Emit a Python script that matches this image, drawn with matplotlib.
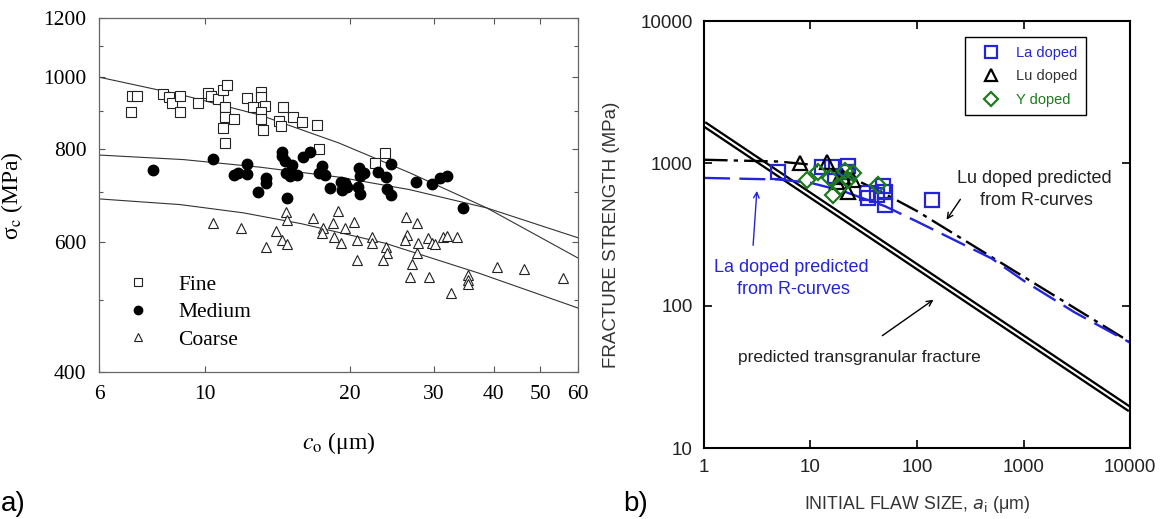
import matplotlib
matplotlib.use("Agg")
import matplotlib.pyplot as plt

# ---------------- panel a) : sigma_c vs c_o (three grain sizes)
fine_c = [7.03, 7.2, 6.99, 8.16, 8.4, 8.53, 8.86, 8.86, 9.65, 10.13,
          10.3, 10.63, 10.89, 11.1, 11.0, 11.0, 11.48, 10.89, 11.0, 12.22,
          12.58, 13.07, 13.07, 13.3, 13.07, 13.07, 13.2, 14.53, 14.25, 14.4,
          15.25, 15.92, 17.11, 17.25, 23.7, 22.6]
fine_s = [943, 943, 896, 948, 939, 923, 943, 896, 923, 952,
          943, 934, 961, 976, 911, 884, 877, 854, 815, 937,
          911, 955, 939, 913, 896, 877, 848, 911, 872, 859,
          884, 870, 862, 800, 790, 766]

medium_c = [7.78, 10.4, 12.22, 11.48, 11.7, 12.22, 12.88, 13.39, 13.39, 14.46,
            14.46, 14.67, 15.17, 14.74, 15.0, 15.55, 15.98, 16.54, 14.8, 17.53,
            17.3, 17.8, 18.2, 19.2, 19.6, 19.25, 19.8, 20.95, 21.05, 21.4,
            20.85, 21.05, 22.9, 23.8, 23.95, 24.4, 24.4, 27.5, 29.8, 30.9,
            32.0, 34.5]
medium_s = [749, 776, 763, 738, 743, 740, 700, 731, 720, 793,
            783, 771, 761, 743, 736, 738, 780, 793, 686, 758,
            743, 738, 709, 722, 720, 705, 711, 753, 736, 743,
            711, 696, 745, 733, 707, 694, 763, 722, 718, 731,
            736, 666]

coarse_c = [10.4, 11.87, 13.39, 14.07, 14.46, 14.8, 14.74, 14.8, 16.75, 18.93,
            17.6, 17.53, 18.5, 18.55, 19.2, 19.6, 20.4, 20.74, 20.74, 22.3,
            22.3, 23.8, 23.95, 23.5, 26.2, 27.65, 26.4, 26.1, 27.8, 27.65,
            27.0, 26.7, 29.3, 29.2, 29.7, 30.1, 31.3, 32.0, 33.5, 32.5,
            35.3, 35.3, 35.3, 40.6, 46.3, 55.8]
coarse_s = [636, 626, 590, 620, 602, 595, 658, 642, 646, 660,
            626, 616, 636, 608, 598, 626, 638, 602, 567, 608,
            598, 590, 579, 567, 648, 636, 612, 602, 598, 579,
            560, 538, 538, 606, 597, 595, 608, 610, 608, 511,
            540, 532, 526, 555, 551, 535]

# fitted curves
fine_fit_c = [6, 9.0, 13.0, 19.0, 26.7, 38.7, 60]
fine_fit_s = [1000, 945, 889, 815, 743, 666, 570]
medium_fit_c = [6, 9.0, 13.0, 19.0, 26.7, 38.7, 60]
medium_fit_s = [785, 774, 756, 733, 705, 666, 607]
coarse_fit_c = [6, 8.86, 12.0, 15.9, 23.7, 37.2, 60]
coarse_fit_s = [685, 673, 656, 634, 597, 544, 488]

a_xticks = [6, 10, 20, 30, 40, 50, 60]
a_yticks = [400, 600, 800, 1000, 1200]
a_yminor = [500, 700, 900, 1100]

# ---------------- panel b) : fracture strength vs initial flaw size
la_a = [4.95, 12.8, 16.0, 22.4, 21.5, 17.0, 33.9, 34.7, 42, 50, 50, 48, 138]
la_s = [869, 942, 950, 960, 869, 820, 618, 570, 599, 629, 509, 690, 552]
lu_a = [8.0, 14.3, 17.7, 22.4, 25, 20]
lu_s = [1005, 1021, 739, 629, 763, 800]
y_a = [9.3, 11.8, 15.1, 18.9, 16.3, 25, 22.4, 43, 21]
y_s = [763, 869, 788, 681, 599, 855, 763, 704, 890]

trans_a = [1, 10000]
trans_s = [1890, 18.7]
lu_pred_a = [1, 5, 10, 20, 50, 100, 1000, 10000]
lu_pred_s = [1060, 1030, 980, 850, 610, 462, 160, 55.5]
la_pred_a = [1, 5, 10, 20, 50, 100, 500, 1000, 3000, 10000]
la_pred_s = [790, 770, 730, 640, 500, 390, 215, 150, 90, 55]

b_ticks_x = [1, 10, 100, 1000, 10000]
b_ticks_y = [10, 100, 1000, 10000]

BLUE = '#2424d8'
GREEN = '#1d7a1d'
SERIF = 'Liberation Serif'
SANS = 'Liberation Sans'

fig = plt.figure(figsize=(11.64, 5.19), dpi=100)

# ======================= panel a
ax1 = fig.add_axes([0.0851, 0.2832, 0.4115, 0.6812])
ax1.set_xscale('log')
ax1.set_yscale('log')
ax1.set_xlim(6, 60)
ax1.set_ylim(400, 1200)

for xs, ys in [(fine_fit_c, fine_fit_s), (medium_fit_c, medium_fit_s),
               (coarse_fit_c, coarse_fit_s)]:
    ax1.plot(xs, ys, color='#333333', lw=0.8)

ax1.plot(fine_c, fine_s, ls='none', marker='s', ms=6.5, mfc='white',
         mec='#222222', mew=0.8, label='Fine')
ax1.plot(medium_c, medium_s, ls='none', marker='o', ms=7.5, mfc='black',
         mec='black', label='Medium')
ax1.plot(coarse_c, coarse_s, ls='none', marker='^', ms=7.5, mfc='white',
         mec='#222222', mew=0.8, label='Coarse')

ax1.xaxis.set_major_locator(plt.FixedLocator(a_xticks))
ax1.xaxis.set_minor_locator(plt.NullLocator())
ax1.set_xticklabels([str(v) for v in a_xticks])
ax1.yaxis.set_major_locator(plt.FixedLocator(a_yticks))
ax1.yaxis.set_minor_locator(plt.FixedLocator(a_yminor))
ax1.yaxis.set_minor_formatter(plt.NullFormatter())
ax1.set_yticklabels([str(v) for v in a_yticks])
ax1.tick_params(which='both', direction='in', top=True, right=True,
                color='#555555', width=0.8)
ax1.tick_params(which='major', length=4, pad=9, labelsize=15.5)
ax1.tick_params(which='minor', length=3)
for lab in ax1.get_xticklabels() + ax1.get_yticklabels():
    lab.set_fontfamily(SERIF)
for sp in ax1.spines.values():
    sp.set_color('#666666')
    sp.set_linewidth(0.9)

ax1.set_ylabel('σ$_{\\rm c}$ (MPa)', fontsize=17, family=SERIF,
               math_fontfamily='stix')
ax1.yaxis.set_label_coords(-0.155, 0.5)
ax1.set_xlabel('$c_{\\rm o}$ (μm)', fontsize=17, family=SERIF,
               math_fontfamily='stix')
ax1.xaxis.set_label_coords(0.5, -0.165)

leg1 = ax1.legend(loc='upper left', bbox_to_anchor=(0.04, 0.30), frameon=False,
                  prop={'family': SERIF, 'size': 15.5}, handlelength=1.0,
                  handletextpad=1.4, labelspacing=0.35, markerscale=0.8,
                  borderaxespad=0)

# ======================= panel b
ax2 = fig.add_axes([0.6048, 0.1368, 0.366, 0.8227])
ax2.set_xscale('log')
ax2.set_yscale('log')
ax2.set_xlim(1, 10000)
ax2.set_ylim(10, 10000)

# double line for transgranular prediction
ax2.plot(trans_a, trans_s, color='black', lw=4.8, solid_capstyle='butt')
ax2.plot(trans_a, trans_s, color='white', lw=1.5, solid_capstyle='butt')

ln_lu, = ax2.plot(lu_pred_a, lu_pred_s, color='black', lw=1.7)
ln_lu.set_dashes([10, 2.6, 1.8, 2.6])
ln_la, = ax2.plot(la_pred_a, la_pred_s, color=BLUE, lw=1.7)
ln_la.set_dashes([11, 4])

ax2.plot(la_a, la_s, ls='none', marker='s', ms=10, mfc='none', mec=BLUE,
         mew=1.6, label='La doped')
ax2.plot(lu_a, lu_s, ls='none', marker='^', ms=10, mfc='none', mec='black',
         mew=1.6, label='Lu doped')
ax2.plot(y_a, y_s, ls='none', marker='D', ms=8.5, mfc='none', mec=GREEN,
         mew=1.6, label='Y doped')

ax2.xaxis.set_major_locator(plt.FixedLocator(b_ticks_x))
ax2.xaxis.set_minor_locator(plt.NullLocator())
ax2.set_xticklabels([str(v) for v in b_ticks_x])
ax2.yaxis.set_major_locator(plt.FixedLocator(b_ticks_y))
ax2.yaxis.set_minor_locator(plt.NullLocator())
ax2.set_yticklabels([str(v) for v in b_ticks_y])
ax2.tick_params(direction='in', top=True, right=True, length=6, width=1.2,
                pad=8, labelsize=13.5, labelcolor='#222222')
for lab in ax2.get_xticklabels() + ax2.get_yticklabels():
    lab.set_fontfamily(SANS)
for sp in ax2.spines.values():
    sp.set_linewidth(1.5)

ax2.set_ylabel('FRACTURE STRENGTH (MPa)', fontsize=13.5, family=SANS,
               color='#333333')
ax2.yaxis.set_label_coords(-0.197, 0.5)
ax2.set_xlabel('INITIAL FLAW SIZE, $a_{\\rm i}$ (μm)', fontsize=12.8,
               family=SANS, color='#333333', math_fontfamily='dejavusans')
ax2.xaxis.set_label_coords(0.5, -0.108)

leg2 = ax2.legend(loc='upper right', bbox_to_anchor=(0.897, 0.9625),
                  fancybox=False, edgecolor='black', framealpha=1,
                  prop={'family': SANS, 'size': 10.5}, handlelength=2.4,
                  handletextpad=0.5, labelspacing=0.65, borderpad=0.6,
                  borderaxespad=0, markerscale=0.85)
leg2.get_frame().set_linewidth(1.0)
for txt, col in zip(leg2.get_texts(), [BLUE, '#333333', GREEN]):
    txt.set_color(col)

ax2.annotate('', xy=(3.15, 670), xytext=(2.88, 254),
             arrowprops=dict(arrowstyle='->', color=BLUE, lw=1.0))
ax2.text(6.6, 184, 'La doped predicted', color=BLUE, fontsize=13,
         family=SANS, ha='center', va='center')
ax2.text(6.9, 129, 'from R-curves', color=BLUE, fontsize=13,
         family=SANS, ha='center', va='center')

ax2.annotate('', xy=(183, 387), xytext=(264, 580),
             arrowprops=dict(arrowstyle='->', color='black', lw=1.0))
ax2.text(1255, 788, 'Lu doped predicted', color='#222222', fontsize=13,
         family=SANS, ha='center', va='center')
ax2.text(1320, 552, 'from R-curves', color='#222222', fontsize=13,
         family=SANS, ha='center', va='center')

ax2.annotate('', xy=(150, 113), xytext=(45, 60),
             arrowprops=dict(arrowstyle='->', color='black', lw=1.0))
ax2.text(28.5, 43.5, 'predicted transgranular fracture', color='#222222',
         fontsize=12.5, family=SANS, ha='center', va='center')

# panel tags
fig.text(0.001, 0.028, 'a)', fontsize=20, family=SANS, ha='left', va='center')
fig.text(0.535, 0.028, 'b)', fontsize=20, family=SANS, ha='left', va='center')

fig.savefig('out.png', dpi=100)
